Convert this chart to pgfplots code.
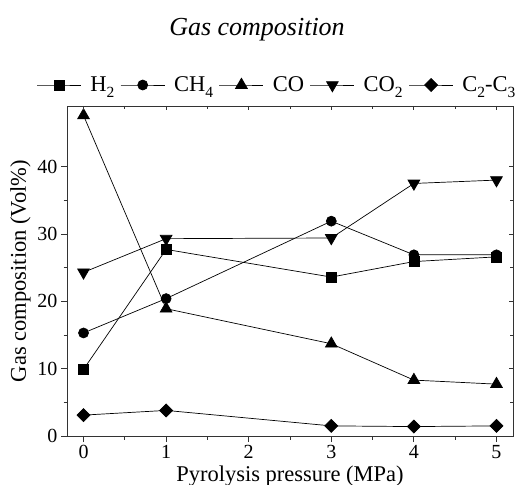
\documentclass[border=0pt]{standalone}
\usepackage{fontspec}
\setmainfont{Liberation Serif}
\usepackage{pgfplots}
\pgfplotsset{compat=1.18}
\usetikzlibrary{calc}
\newcommand\sub[1]{\raisebox{-0.55ex}{\fontsize{15.5}{15.5}\selectfont #1}}
\begin{document}
\begin{tikzpicture}
\pgfplotsset{
  common/.style={
    scale only axis, width=446pt, height=330pt,
    xmin=-0.2, xmax=5.2, ymin=0, ymax=49,
    xtick={0,...,5}, ytick={0,10,...,40},
    minor x tick num=1, minor y tick num=1,
  },
  ser/.style={line width=0.7pt, black, mark options={solid, fill=black}},
}
\begin{axis}[common, name=ax,
  axis line style={line width=0.8pt, black!80},
  xtick pos=bottom, ytick pos=left, tick align=outside,
  major tick length=6pt, minor tick length=3.5pt,
  tick style={line width=0.8pt, black!80},
  ticklabel style={font=\fontsize{20}{22}\selectfont},
  /pgf/number format/assume math mode=true,
  xlabel={Pyrolysis pressure (MPa)},
  ylabel={Gas composition (Vol\%)},
  label style={font=\fontsize{22.5}{25}\selectfont},
  legend style={at={(0.471,1.0636)}, anchor=center, draw=none, fill=none,
    font=\fontsize{22.5}{24}\selectfont,
    /tikz/every even column/.append style={column sep=4pt}},
  legend columns=-1,
  legend image code/.code={
    \draw[mark repeat=2, mark phase=2, #1] plot coordinates {(0pt,0pt) (22pt,0pt) (44pt,0pt)};
    \path (51pt,0pt);
  },
]
\addplot[ser, mark=square*, mark size=5pt] coordinates {
(0,9.9) (1,27.7) (3,23.6) (4,25.9) (5,26.6)
};
\addlegendentry{H\sub{2}}
\addplot[ser, mark=*, mark size=5pt] coordinates {
(0,15.3) (1,20.4) (3,31.9) (4,26.9) (5,26.9)
};
\addlegendentry{CH\sub{4}}
\addplot[ser, mark=triangle*, mark size=6.8pt] coordinates {
(0,47.6) (1,18.9) (3,13.7) (4,8.3) (5,7.7)
};
\addlegendentry{CO}
\addplot[ser, mark=triangle*, mark size=6.8pt, mark options={rotate=180}] coordinates {
(0,24.3) (1,29.3) (3,29.4) (4,37.5) (5,38.0)
};
\addlegendentry{CO\sub{2}}
\addplot[ser, mark=square*, mark size=4.6pt, mark options={rotate=45}] coordinates {
(0,3.1) (1,3.8) (3,1.5) (4,1.4) (5,1.5)
};
\addlegendentry{C\sub{2}-C\sub{3}}
\end{axis}
\begin{axis}[common,
  axis line style={draw=none},
  xtick pos=top, ytick pos=right, tick align=inside,
  major tick length=4.5pt, minor tick length=3pt,
  tick style={line width=0.8pt, black!80},
  xticklabels={}, yticklabels={},
]
\end{axis}
\node[font=\itshape\fontsize{26}{29}\selectfont] at ($(ax.north west)+(190pt,76pt)$) {Gas composition};
\pgfresetboundingbox
\path ($(ax.south west)+(-67pt,-49pt)$) rectangle ($(ax.north east)+(4pt,106pt)$);
\end{tikzpicture}
\end{document}
